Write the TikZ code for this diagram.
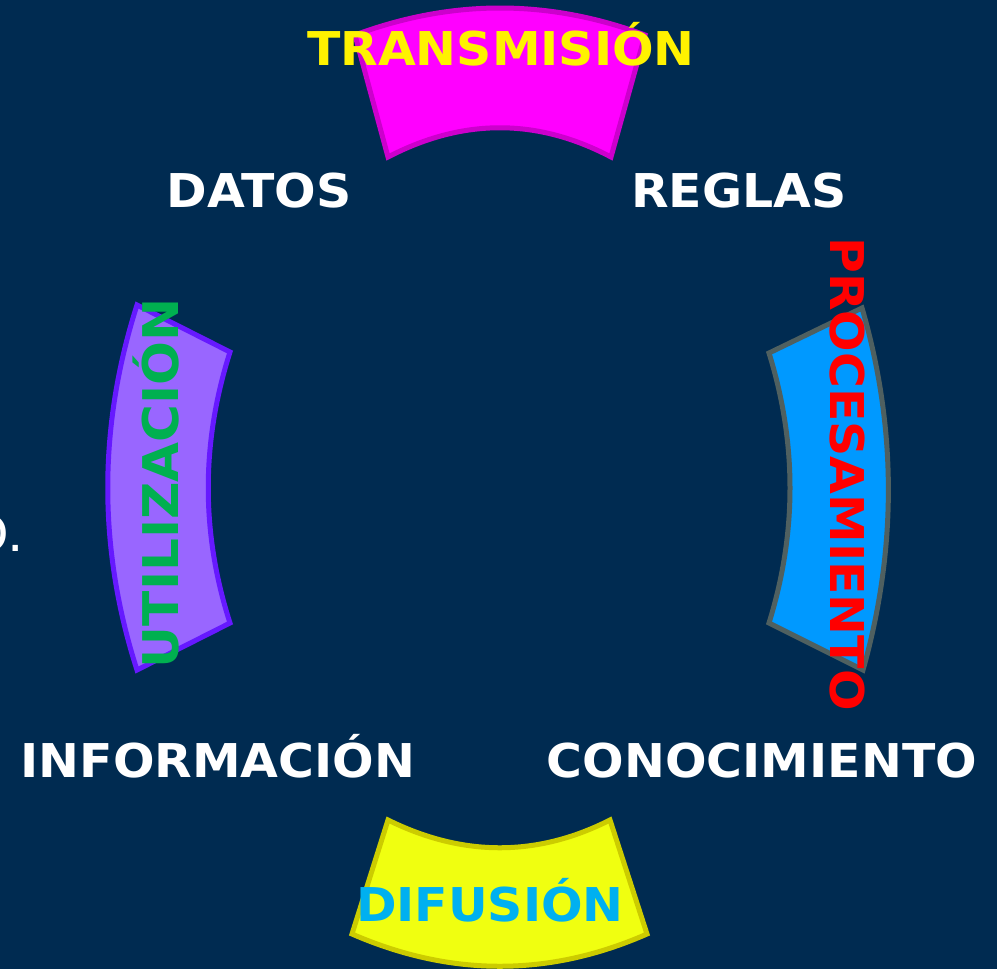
\documentclass[tikz,border=0pt]{standalone}
\usepackage{fontspec}
\setmainfont{DejaVu Sans}[FakeStretch=1.05]
\definecolor{fondo}{HTML}{002B51}
\definecolor{magenta1}{HTML}{FF00FF}
\definecolor{magenta2}{HTML}{CC00CC}
\definecolor{azul1}{HTML}{0099FF}
\definecolor{gris1}{HTML}{4F6060}
\definecolor{amarillo1}{HTML}{F0FF10}
\definecolor{amarillo2}{HTML}{CCCC00}
\definecolor{lila1}{HTML}{9966FF}
\definecolor{lila2}{HTML}{6619FF}
\definecolor{celeste}{HTML}{00B0F0}
\definecolor{verde}{HTML}{00B050}
\begin{document}
\begin{tikzpicture}[x=0.2mm, y=-0.2mm, line join=miter,
		seg/.style={line width=1mm},
		rotulo/.style={font=\fontsize{26.5}{30}\selectfont\bfseries, inner sep=0pt, anchor=base}]
	\useasboundingbox (0,0) rectangle (997,969);
	\fill[fondo] (0,0) rectangle (997,969);
	% segmentos del anillo
	\filldraw[seg, fill=magenta1, draw=magenta2] (355,35) .. controls (452,-1) and (548,-1) .. (645,35) -- (611,157) .. controls (537,118) and (463,118) .. (388,157) -- cycle;
	\filldraw[seg, fill=azul1, draw=gris1] (862,308) .. controls (897,428) and (897,549) .. (863,670) -- (769,623) .. controls (797,533) and (797,443) .. (769,353) -- cycle;
	\filldraw[seg, fill=amarillo1, draw=amarillo2] (388,820) .. controls (463,857) and (537,857) .. (610,820) -- (647,934) .. controls (549,977) and (451,977) .. (352,934) -- cycle;
	\filldraw[seg, fill=lila1, draw=lila2] (137,305) .. controls (98,427) and (98,549) .. (137,670) -- (230,623) .. controls (201,533) and (201,443) .. (230,352) -- cycle;
	% procesos
	\node[rotulo, text=yellow] (transmision) at (501,65) {TRANSMISIÓN};
	\node[rotulo, text=celeste] (difusion) at (490,921) {DIFUSIÓN};
	\node[rotulo, text=red, rotate=-90] (procesamiento) at (830,474) {PROCESAMIENTO};
	\node[rotulo, text=verde, rotate=90, font=\fontsize{28}{30}\selectfont\bfseries] (utilizacion) at (178,483) {UTILIZACIÓN};
	% elementos
	\node[rotulo, text=white] (datos) at (259,207) {DATOS};
	\node[rotulo, text=white] (reglas) at (739,207) {REGLAS};
	\node[rotulo, text=white] (informacion) at (218,777) {INFORMACIÓN};
	\node[rotulo, text=white] (conocimiento) at (762,777) {CONOCIMIENTO};
	\node[font=\fontsize{28}{32}\selectfont, text=white, inner sep=0pt, anchor=base east] (resto) at (24,551) {O.};
\end{tikzpicture}
\end{document}
